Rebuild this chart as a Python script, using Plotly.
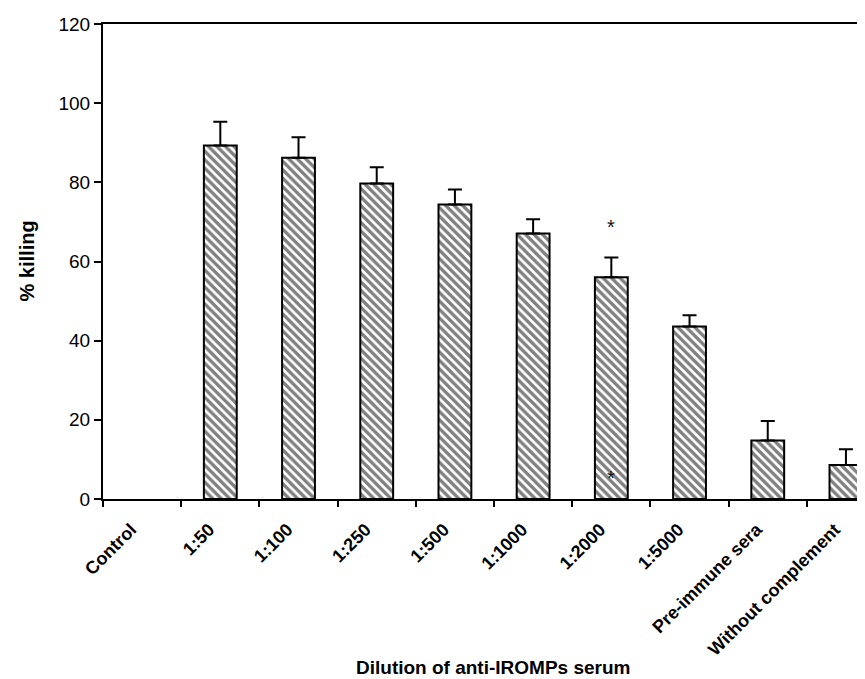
import plotly.graph_objects as go

categories = ["Control", "1:50", "1:100", "1:250", "1:500", "1:1000", "1:2000",
              "1:5000", "Pre-immune sera", "Without complement"]
killing = [None, 89.3, 86.2, 79.7, 74.4, 67.1, 56.0, 43.6, 14.8, 8.6]
errors = [0, 6.0, 5.2, 4.1, 3.8, 3.6, 5.0, 2.8, 4.9, 4.0]
y_ticks = [0, 20, 40, 60, 80, 100, 120]
star_category = "1:2000"
star_values = [68.6, 5.2]

fig = go.Figure()
fig.add_trace(go.Bar(
    x=categories, y=killing, width=0.42,
    marker=dict(color="white", line=dict(color="black", width=2),
                pattern=dict(shape="\\", size=6, solidity=0.55, fgcolor="black", bgcolor="white")),
    error_y=dict(type="data", array=errors, symmetric=False, arrayminus=[0]*len(errors),
                 color="black", thickness=2, width=7),
    showlegend=False,
))

for v in star_values:
    fig.add_annotation(x=star_category, y=v, xref="x", yref="y", text="*", showarrow=False,
                       font=dict(family="Liberation Sans", size=20, color="#111"))

fig.add_annotation(x=0.507, y=-0.354, xref="paper", yref="paper", text="Dilution of anti-IROMPs serum",
                   showarrow=False, xanchor="center", yanchor="middle",
                   font=dict(family="Liberation Sans", size=19, color="black", weight="bold"))
fig.add_annotation(x=-0.1, y=0.5, xref="paper", yref="paper", text="% killing", textangle=-90,
                   showarrow=False, xanchor="center", yanchor="middle",
                   font=dict(family="Liberation Sans", size=20, color="black", weight="bold"))

fig.update_layout(
    width=865, height=679,
    margin=dict(l=95, r=0, t=16, b=188),
    plot_bgcolor="white", paper_bgcolor="white",
    xaxis=dict(type="category", range=[-0.5, 9.346], showline=True, linecolor="black", linewidth=2,
               mirror=True, ticks="outside", ticklen=6, tickwidth=1.5, tickcolor="black",
               tickson="boundaries", tickangle=-45, showgrid=False, zeroline=False,
               ticklabelstandoff=11, ticklabelshift=-11,
               tickfont=dict(family="Liberation Sans", size=18, color="black", weight="bold")),
    yaxis=dict(range=[0, 120], tickvals=y_ticks, showline=True, linecolor="black", linewidth=2,
               ticks="outside", ticklen=7, tickwidth=1.5, tickcolor="black", showgrid=False,
               zeroline=False, tickfont=dict(family="Liberation Sans", size=19, color="black")),
)

fig.write_html("out.html")
